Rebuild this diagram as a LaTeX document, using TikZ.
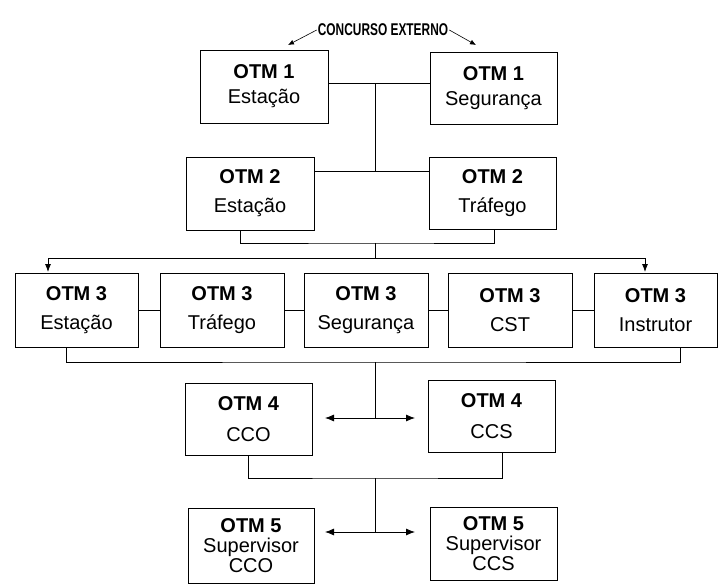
\documentclass[tikz,border=0pt]{standalone}
\usepackage{fontspec}
\setmainfont{Liberation Sans}
\usetikzlibrary{arrows.meta}
\tikzset{
  conn/.style={line width=0.8pt},
  arr/.style={line width=0.8pt, -{Latex[length=8pt,width=6pt]}},
  darr/.style={line width=0.8pt, {Latex[length=9pt,width=7pt]}-{Latex[length=9pt,width=7pt]}}
}
\newcommand\boxat[6]{% name, x1, y1, x2, y2, text
  \draw[line width=0.9pt] (#2,#3) rectangle (#4,#5);
  \node[align=center, font=\fontsize{20}{23}\selectfont, inner sep=0pt] (#1) at ({(#2+#4)/2},{(#3+#5)/2}) {#6};
  \coordinate (#1-s) at ({(#2+#4)/2},#5);
  \coordinate (#1-w) at (#2,{(#3+#5)/2});
  \coordinate (#1-e) at (#4,{(#3+#5)/2});
}
\begin{document}
\begin{tikzpicture}[x=1pt,y=-1pt]
  \useasboundingbox (0,0) rectangle (723,584);
  % titulo
  \node[font=\bfseries\fontsize{17}{19}\selectfont, inner sep=1pt] (ext) at (383,30) {\scalebox{0.7}[1]{CONCURSO EXTERNO}};
  \coordinate (e1) at (288,45);
  \coordinate (e2) at (476,45);
  \draw[line width=0.6pt, -{Latex[length=6pt,width=5pt]}] (ext.west) -- (e1);
  \draw[line width=0.6pt, -{Latex[length=6pt,width=5pt]}] (ext.east) -- (e2);
  % nivel 1 e 2
  \boxat{a1}{200}{50}{328}{123}{\textbf{OTM 1}\\[2pt]Estação}
  \boxat{a2}{430}{52}{557}{124}{\textbf{OTM 1}\\[2pt]Segurança}
  \boxat{b1}{186}{157}{314}{230}{\textbf{OTM 2}\\[6pt]Estação}
  \boxat{b2}{429}{157}{556}{229}{\textbf{OTM 2}\\[6pt]Tráfego}
  \coordinate (j1) at (375,83);
  \coordinate (j2) at (375,171);
  \draw[conn] (328,83) -- (430,83);
  \draw[conn] (314,171) -- (429,171);
  \draw[conn] (j1) -- (j2);
  \coordinate (j3) at (375,243);
  \coordinate (j4) at (375,258);
  \draw[conn] (240,230) |- (j3) -| (494,229);
  \draw[conn] (j3) -- (j4);
  % nivel 3
  \foreach \n/\xa/\xb/\t in {c1/15/138/Estação, c2/160/284/Tráfego, c3/304/428/Segurança, c4/448/572/CST, c5/594/717/Instrutor}
    \boxat{\n}{\xa}{273}{\xb}{347}{\textbf{OTM 3}\\[6pt]\t}
  \coordinate (l3) at (48,258);
  \coordinate (r3) at (645,258);
  \draw[conn] (l3) -- (r3);
  \draw[arr] (l3) -- (48,272);
  \draw[arr] (r3) -- (645,272);
  \foreach \p/\q in {c1/c2, c2/c3, c3/c4, c4/c5}
    \draw[conn] (\p-e) -- (\q-w);
  \coordinate (j5) at (375,362);
  \coordinate (j6) at (375,418);
  \draw[conn] (66,347) |- (j5) -| (680,347);
  \draw[conn] (j5) -- (j6);
  % nivel 4
  \boxat{d1}{185}{383}{312}{455}{\textbf{OTM 4}\\[8pt]CCO}
  \boxat{d2}{428}{380}{555}{452}{\textbf{OTM 4}\\[8pt]CCS}
  \draw[darr] (325,418) -- (415,418);
  \coordinate (j7) at (375,478);
  \coordinate (j8) at (375,532);
  \draw[conn] (248,455) |- (j7) -| (502,452);
  \draw[conn] (j7) -- (j8);
  % nivel 5
  \boxat{f1}{188}{508}{314}{583}{\textbf{OTM 5}\\[-3pt]Supervisor\\[-3pt]CCO}
  \boxat{f2}{430}{507}{557}{580}{\textbf{OTM 5}\\[-3pt]Supervisor\\[-3pt]CCS}
  \draw[darr] (325,532) -- (415,532);
\end{tikzpicture}
\end{document}
